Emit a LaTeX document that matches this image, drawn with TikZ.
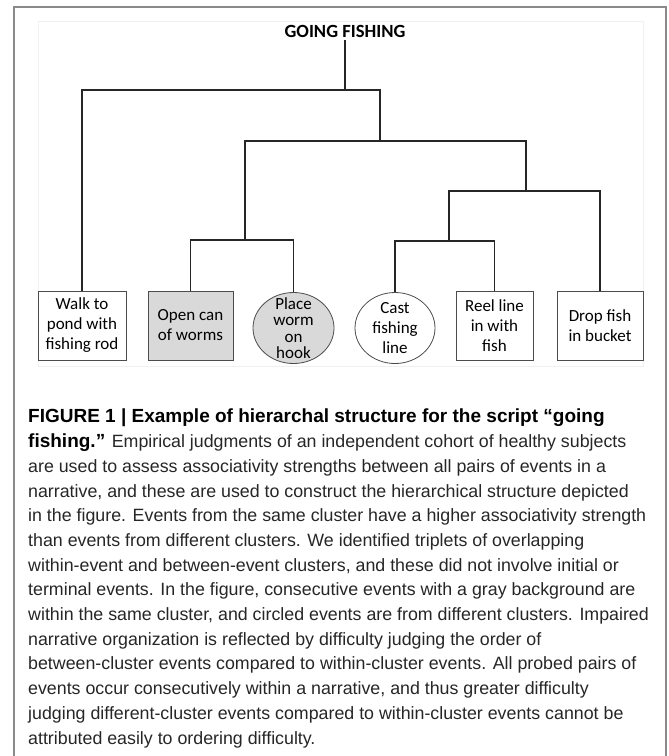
\documentclass[tikz,border=0pt]{standalone}
\usepackage{fontspec}
\setmainfont{Liberation Sans}
\newfontfamily\calibri{Carlito}
\usetikzlibrary{positioning,shapes.geometric}
\definecolor{cellgray}{HTML}{D9D9D9}
\definecolor{framegray}{HTML}{8A8A8A}

\begin{document}
\begin{tikzpicture}[x=1pt, y=-1pt,
  event/.style={draw=black!70, line width=0.8pt, minimum height=69pt, inner sep=0pt, align=center, font=\calibri\fontsize{17}{20}\selectfont},
  ring/.style={event, ellipse, minimum width=81pt, minimum height=71pt, inner ysep=-14pt},
  link/.style={line width=1.6pt, black!85, line join=miter}]
  \useasboundingbox (0,0) rectangle (669,756);
  % frame of the figure and the faint border of the chart
  \draw[framegray, line width=1.2pt] (14,756) -- (14,7) -- (666,7) -- (666,756);
  \draw[black!6, line width=0.8pt] (38,21) rectangle (643,366);
  \node[font=\calibri\bfseries\fontsize{18.6}{20}\selectfont, inner sep=3pt] (title) at (345,31) {GOING FISHING};
  % events
  \node[event, minimum width=88pt] (walk) at (82,325.5) {Walk to\\pond with\\fishing rod};
  \node[event, minimum width=85pt, fill=cellgray] (open) at (190.5,325.5) {Open can\\of worms};
  \node[ring, fill=cellgray, font=\calibri\fontsize{17}{16.5}\selectfont] (place) at (293.5,328) {Place\\worm\\on\\hook};
  \node[ring, minimum width=80pt] (cast) at (395,328) {Cast\\fishing\\line};
  \node[event, minimum width=77pt] (reel) at (494.5,325.5) {Reel line\\in with\\fish};
  \node[event, minimum width=86pt] (drop) at (600,325.5) {Drop fish\\in bucket};
  % joins of the tree
  \coordinate (j0) at (345,90);
  \coordinate (jA) at (380,141);
  \coordinate (jB) at (245,240);
  \coordinate (jC) at (526,191);
  \coordinate (jD) at (449,241);
  \draw[link] (title.south) -- (j0);
  \draw[link] (walk.north) |- (j0) -| (jA);
  \draw[link] (jB) |- (jA) -| (jC);
  \draw[link] (open.north) |- (jB) -| (place.north);
  \draw[link] (jD) |- (jC) -| (drop.north);
  \draw[link] (cast.north) |- (jD) -| (reel.north);
  % caption (base anchor sits on the last line)
  \node[anchor=base west, align=left, inner sep=0pt, text=black!85, font=\fontsize{17.8}{24.7}\selectfont] (caption) at (28,744) {%
    {\color{black}\bfseries\fontsize{19}{24.7}\selectfont FIGURE 1 | Example of hierarchal structure for the script “going}\\
    {\color{black}\bfseries\fontsize{19}{24.7}\selectfont fishing.”} Empirical judgments of an independent cohort of healthy subjects\\
    are used to assess associativity strengths between all pairs of events in a\\
    narrative, and these are used to construct the hierarchical structure depicted\\
    in the figure. Events from the same cluster have a higher associativity strength\\
    than events from different clusters. We identified triplets of overlapping\\
    within-event and between-event clusters, and these did not involve initial or\\
    terminal events. In the figure, consecutive events with a gray background are\\
    within the same cluster, and circled events are from different clusters. Impaired\\
    narrative organization is reflected by difficulty judging the order of\\
    between-cluster events compared to within-cluster events. All probed pairs of\\
    events occur consecutively within a narrative, and thus greater difficulty\\
    judging different-cluster events compared to within-cluster events cannot be\\
    attributed easily to ordering difficulty.};
\end{tikzpicture}
\end{document}
